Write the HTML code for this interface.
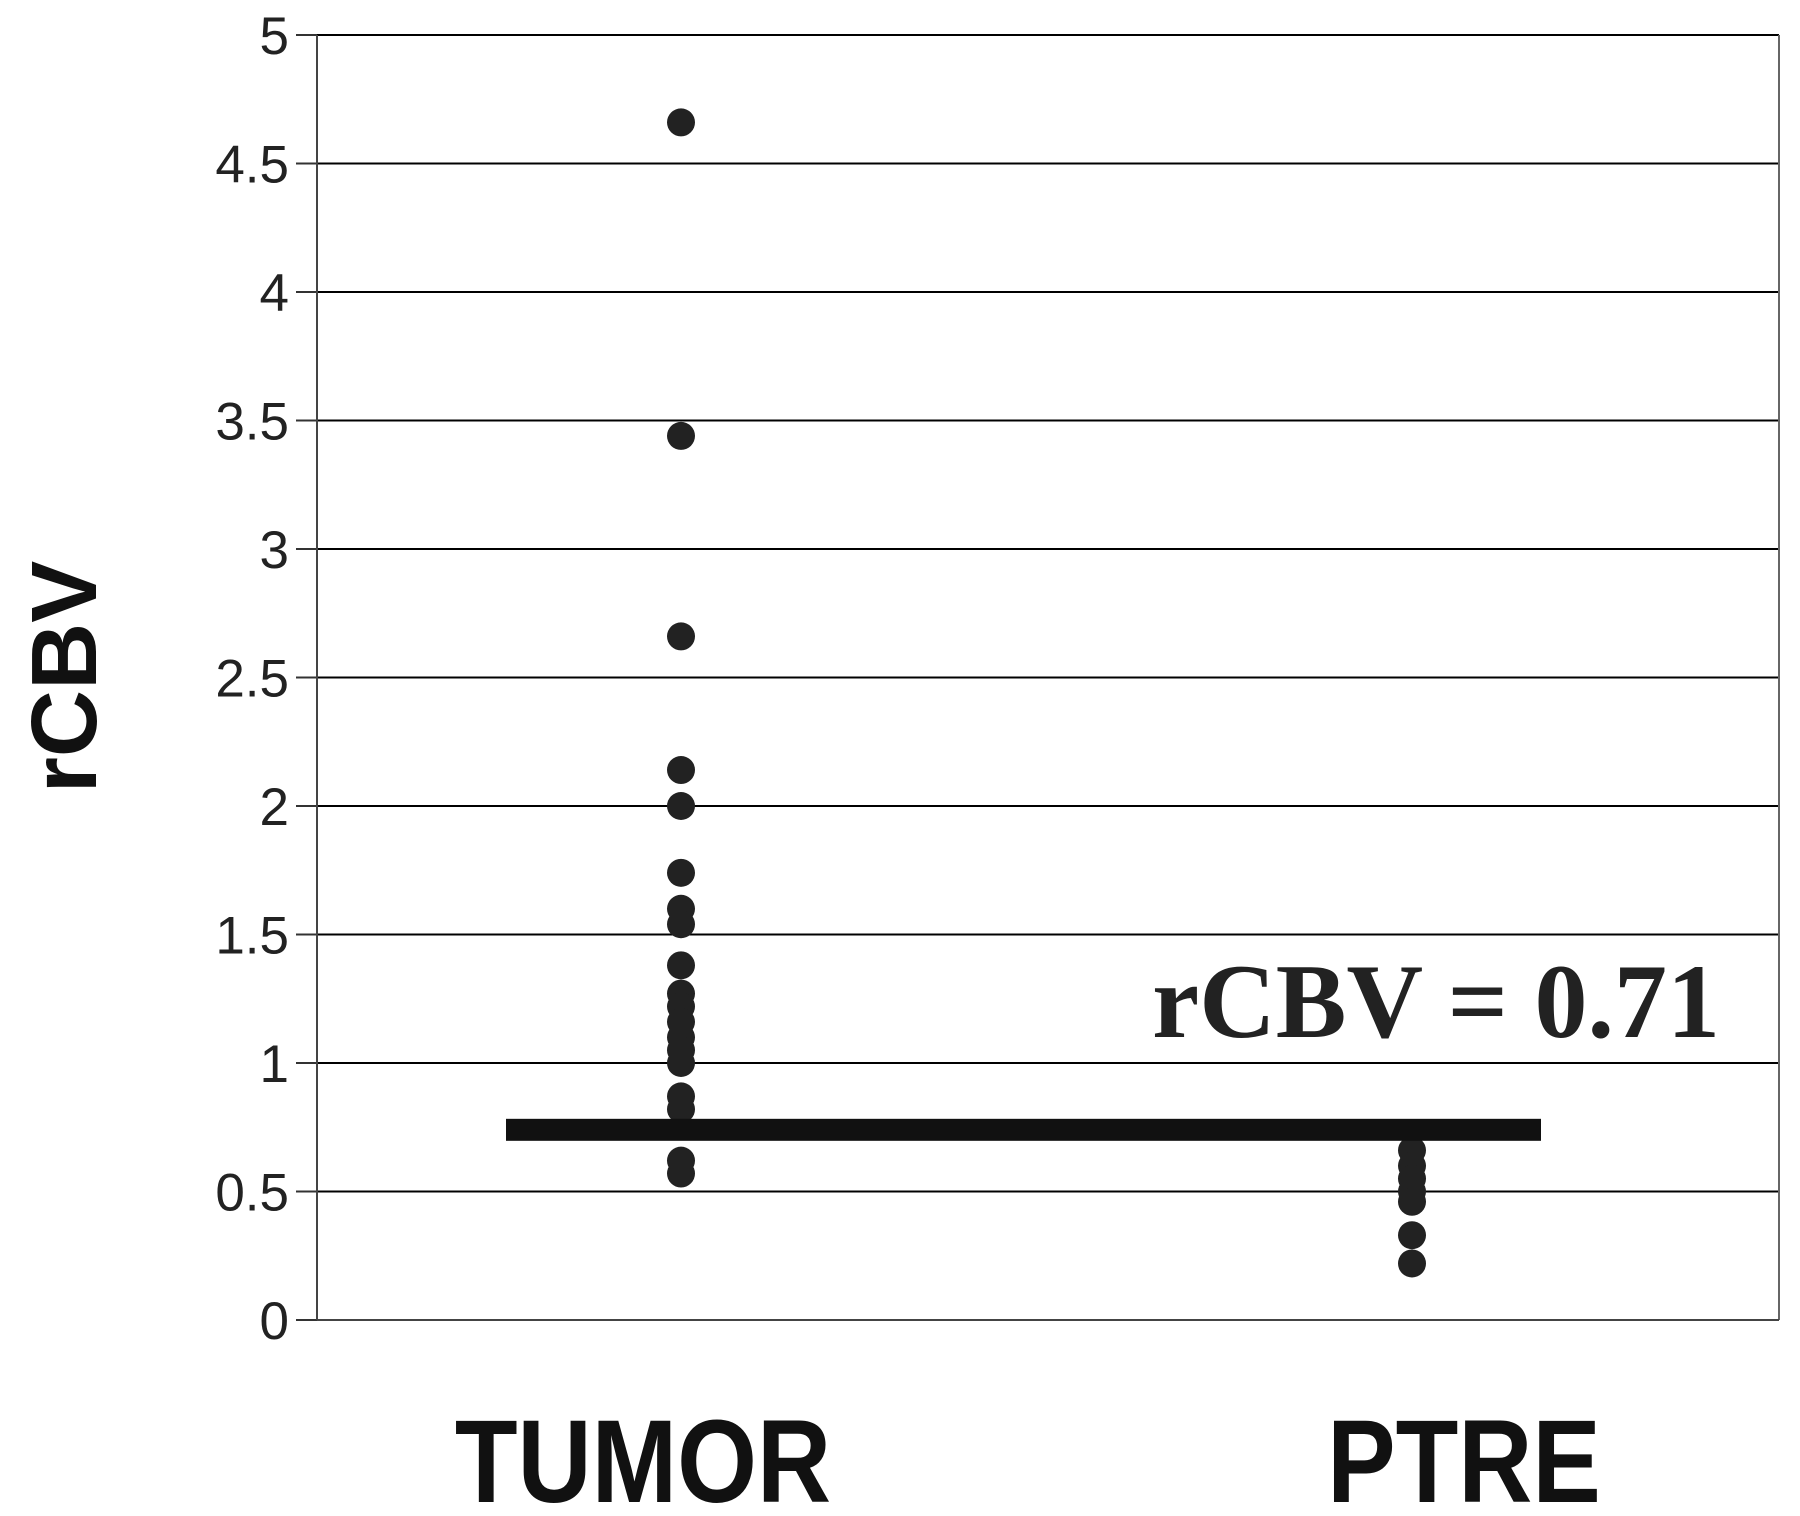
<!DOCTYPE html>
<html><head><meta charset="utf-8"><style>
html,body{margin:0;padding:0;background:#fff;}
svg{display:block;}
</style></head><body>
<svg id="chart" width="1800" height="1516" viewBox="0 0 1800 1516" xmlns="http://www.w3.org/2000/svg">
<rect width="1800" height="1516" fill="#fff"/>
<g id="grid"></g><g id="axes"></g><g id="marks"></g><g id="labels"></g>
</svg>
<script>
const yTicks = [0,0.5,1,1.5,2,2.5,3,3.5,4,4.5,5];
const yTickLabels = ["0","0.5","1","1.5","2","2.5","3","3.5","4","4.5","5"];
const categories = ["TUMOR","PTRE"];
const tumorValues = [4.66,3.44,2.66,2.14,2.0,1.74,1.6,1.54,1.38,1.27,1.22,1.16,1.1,1.05,1.0,0.87,0.82,0.62,0.57];
const ptreValues = [0.66,0.6,0.55,0.5,0.46,0.33,0.22];
const threshold = [0.74];
const thresholdLabel = "rCBV = 0.71";

const NS="http://www.w3.org/2000/svg";
const L=317,R=1779,Y0=1320,Y5=35;
const y=v=>Y0-(v/5)*(Y0-Y5);
const catX={TUMOR:681,PTRE:1412};
const catLabelX={TUMOR:643,PTRE:1464};
const x=c=>catX[c];
function mk(tag,attrs,parent,text){const e=document.createElementNS(NS,tag);for(const k in attrs)e.setAttribute(k,attrs[k]);if(text!==undefined)e.textContent=text;document.getElementById(parent).appendChild(e);return e;}

yTicks.forEach((t,i)=>{
  if(t>0){const g=mk('line',{x1:L,x2:R,y1:y(t),y2:y(t),stroke:'#000','stroke-width':2},'grid');
  
  }
  const tk=mk('line',{x1:296,x2:L,y1:y(t),y2:y(t),stroke:'#333','stroke-width':2},'axes');
  
  
  const lb=mk('text',{x:289,y:y(t)+19,'text-anchor':'end','font-family':'Liberation Sans, sans-serif','font-size':53,fill:'#222'},'labels',yTickLabels[i]);
  
  
});
const ax=mk('line',{x1:L,x2:L,y1:Y5,y2:Y0,stroke:'#444','stroke-width':2},'axes');


const rb=mk('line',{x1:R,x2:R,y1:Y5,y2:Y0,stroke:'#666','stroke-width':2},'axes');


const xa=mk('line',{x1:L,x2:R,y1:Y0,y2:Y0,stroke:'#444','stroke-width':2},'axes');



tumorValues.forEach((v,i)=>{
  const c=mk('circle',{cx:x('TUMOR'),cy:y(v),r:14,fill:'#222'},'marks');
  
  
});
ptreValues.forEach((v,i)=>{
  const c=mk('circle',{cx:x('PTRE'),cy:y(v),r:14,fill:'#222'},'marks');
  
  
});
const th=mk('rect',{x:506,width:1035,y:y(threshold[0])-11,height:22,fill:'#111'},'marks');


const tl=mk('text',{x:1720,y:1037,'text-anchor':'end','font-family':'Liberation Serif, serif','font-weight':'bold','font-size':106,fill:'#222'},'labels',thresholdLabel);



categories.forEach(c=>{
  const t=mk('text',{x:0,y:0,transform:'translate('+catLabelX[c]+',1502) scale(0.87,1)','text-anchor':'middle','font-family':'Liberation Sans, sans-serif','font-weight':'bold','font-size':118,fill:'#111'},'labels',c);
  
  
});
const yt=mk('text',{x:0,y:0,transform:'translate(96,677) rotate(-90)','text-anchor':'middle','font-family':'Liberation Sans, sans-serif','font-weight':'bold','font-size':93,fill:'#111'},'labels','rCBV');


</script>
</body></html>
